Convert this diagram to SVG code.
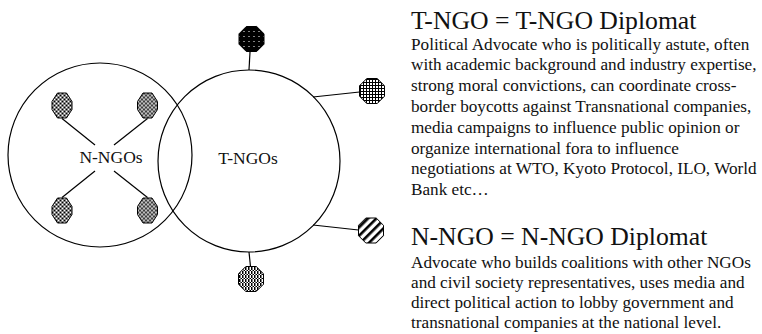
<svg xmlns="http://www.w3.org/2000/svg" xmlns:xlink="http://www.w3.org/1999/xlink" width="762" height="334" viewBox="0 0 762 334">
  <style>
    .ring { fill: none; stroke: #000; stroke-width: 1.2; }
    .link { stroke: #000; stroke-width: 1.2; fill: none; }
    .node { stroke: #000; stroke-width: 1; }
    .lbl { font-family: "Liberation Serif", "Times New Roman", serif; font-size: 17.5px; fill: #111; text-anchor: middle; }
    .head { font-family: "Liberation Serif", "Times New Roman", serif; font-size: 25.7px; fill: #111; }
    .body { font-family: "Liberation Serif", "Times New Roman", serif; font-size: 17.2px; fill: #111; }
  </style>
  <defs>
    <!-- fill textures for the small nodes -->
    <pattern id="pConfetti" width="4" height="4" patternUnits="userSpaceOnUse">
      <rect width="4" height="4" fill="#fff"/>
      <rect x="0" y="0" width="2" height="1" fill="#000"/>
      <rect x="2" y="1" width="2" height="1" fill="#000"/>
      <rect x="1" y="2" width="2" height="1" fill="#000"/>
      <rect x="3" y="3" width="1" height="1" fill="#000"/>
      <rect x="0" y="3" width="1" height="1" fill="#000"/>
    </pattern>
    <pattern id="pDots" width="5" height="5" patternUnits="userSpaceOnUse">
      <rect width="5" height="5" fill="#000"/>
      <rect x="2" y="2" width="1" height="1" fill="#fff"/>
    </pattern>
    <pattern id="pGrid" width="3" height="3" patternUnits="userSpaceOnUse">
      <rect width="3" height="3" fill="#fff"/>
      <rect x="0" y="0" width="3" height="1" fill="#000"/>
      <rect x="0" y="0" width="1" height="3" fill="#000"/>
    </pattern>
    <pattern id="pHatch" width="6" height="6" patternUnits="userSpaceOnUse" patternTransform="rotate(45)">
      <rect width="6" height="6" fill="#fff"/>
      <rect x="0" y="0" width="2.6" height="6" fill="#000"/>
    </pattern>
    <pattern id="pStripe" width="3" height="4" patternUnits="userSpaceOnUse">
      <rect width="3" height="4" fill="#fff"/>
      <rect x="0" y="0" width="1.5" height="3" fill="#000"/>
      <rect x="1.5" y="3" width="1.5" height="1" fill="#000"/>
    </pattern>
    <!-- node outlines, centred on the origin -->
    <polygon id="octSmall" points="-4.5,-12.5 4.5,-12.5 10,-4 10,4 4.5,12.5 -4.5,12.5 -10,4 -10,-4"/>
    <polygon id="oct" points="-5.2,-12.5 5.2,-12.5 12.5,-5.2 12.5,5.2 5.2,12.5 -5.2,12.5 -12.5,5.2 -12.5,-5.2"/>
  </defs>

  <!-- the two overlapping groups -->
  <g id="nngo-group">
    <circle class="ring" cx="100" cy="155" r="92"/>
    <text class="lbl" x="111" y="163">N-NGOs</text>
  </g>
  <g id="tngo-group">
    <circle class="ring" cx="249" cy="161" r="91"/>
    <text class="lbl" x="248" y="164">T-NGOs</text>
  </g>

  <g id="connectors">
    <line class="link" x1="62" y1="118.5" x2="95" y2="145"/>
    <line class="link" x1="147.5" y1="118.5" x2="114" y2="145"/>
    <line class="link" x1="95" y1="171" x2="62" y2="197.5"/>
    <line class="link" x1="114" y1="171" x2="147.5" y2="197.5"/>
    <line class="link" x1="250" y1="52" x2="249" y2="70"/>
    <line class="link" x1="313" y1="97" x2="359.5" y2="92"/>
    <line class="link" x1="313" y1="225" x2="358.5" y2="230"/>
    <line class="link" x1="249" y1="252" x2="250.5" y2="266.5"/>
  </g>

  <!-- national NGOs -->
  <g id="n1"><use xlink:href="#octSmall" class="node" fill="url(#pConfetti)" x="62" y="105.5"/></g>
  <g id="n2"><use xlink:href="#octSmall" class="node" fill="url(#pConfetti)" x="147.5" y="105.5"/></g>
  <g id="n3"><use xlink:href="#octSmall" class="node" fill="url(#pConfetti)" x="62" y="210.5"/></g>
  <g id="n4"><use xlink:href="#octSmall" class="node" fill="url(#pConfetti)" x="147.5" y="210.5"/></g>

  <!-- transnational NGOs -->
  <g id="t1"><use xlink:href="#oct" class="node" fill="url(#pDots)" x="251.5" y="39"/></g>
  <g id="t2"><use xlink:href="#oct" class="node" fill="url(#pGrid)" x="372" y="91"/></g>
  <g id="t3"><use xlink:href="#oct" class="node" fill="url(#pHatch)" x="371" y="230.5"/></g>
  <g id="t4"><use xlink:href="#oct" class="node" fill="url(#pStripe)" x="251" y="279"/></g>

  <!-- definitions -->
  <g id="tngo-text">
    <text class="head" x="411" y="28.5">T-NGO = T-NGO Diplomat</text>
    <text class="body" x="411" y="49.6">Political Advocate who is politically astute, often</text>
    <text class="body" x="411" y="70.4">with academic background and industry expertise,</text>
    <text class="body" x="411" y="91.2">strong moral convictions, can coordinate cross-</text>
    <text class="body" x="411" y="112">border boycotts against Transnational companies,</text>
    <text class="body" x="411" y="132.8">media campaigns to influence public opinion or</text>
    <text class="body" x="411" y="153.6">organize international fora to influence</text>
    <text class="body" x="411" y="174.4">negotiations at WTO, Kyoto Protocol, ILO, World</text>
    <text class="body" x="411" y="195.2">Bank etc…</text>
  </g>
  <g id="nngo-text">
    <text class="head" x="411" y="245">N-NGO = N-NGO Diplomat</text>
    <text class="body" x="411" y="268">Advocate who builds coalitions with other NGOs</text>
    <text class="body" x="411" y="288">and civil society representatives, uses media and</text>
    <text class="body" x="411" y="308">direct political action to lobby government and</text>
    <text class="body" x="411" y="328">transnational companies at the national level.</text>
  </g>
</svg>
